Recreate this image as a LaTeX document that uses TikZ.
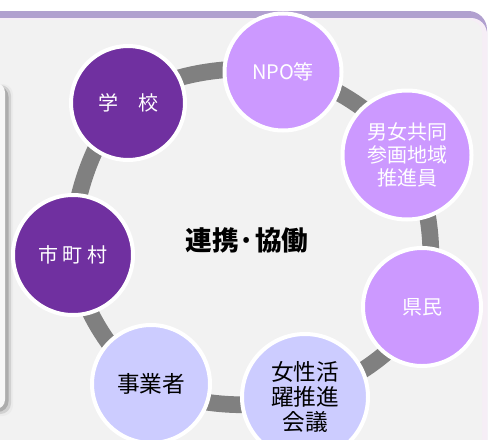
\documentclass[tikz,border=0pt]{standalone}
\usepackage{fontspec}
\setmainfont{Noto Sans CJK JP}
\usetikzlibrary{backgrounds}
\definecolor{bandc}{HTML}{B1A0CF}
\definecolor{edgepale}{HTML}{F6EEF6}
\definecolor{panelc}{HTML}{F2F2F2}
\definecolor{darkp}{HTML}{7030A0}
\definecolor{midp}{HTML}{CC99FF}
\definecolor{lightp}{HTML}{CCCCFF}
\definecolor{ringc}{HTML}{808080}
\pgfdeclarelayer{back}
\pgfdeclarelayer{ringlayer}
\pgfsetlayers{back,ringlayer,main}
\tikzset{
  bub/.style={circle, draw=white, line width=3pt, inner sep=0pt, align=center},
  darkbub/.style={bub, fill=darkp, text=white},
  midbub/.style={bub, fill=midp, text=white},
  lightbub/.style={bub, fill=lightp, text=black},
  ringline/.style={draw=ringc, line width=12.5pt},
  f15/.style={font=\fontsize{15}{17.5}\selectfont},
  f17/.style={font=\fontsize{17}{19}\selectfont},
}
\begin{document}
\begin{tikzpicture}[x=0.75pt,y=-0.75pt]
\useasboundingbox (0,0) rectangle (488,439);
\begin{pgfonlayer}{back}
\clip (0,0) rectangle (488,439);
\fill[white] (0,0) rectangle (488,439);
\fill[bandc, rounded corners=14pt] (-30,11) rectangle (487,480);
\fill[edgepale, rounded corners=12pt] (-30,18) rectangle (487,480);
\fill[panelc, rounded corners=10pt] (-30,20) rectangle (482,480);
\fill[black!8, rounded corners=8pt] (-30,84) rectangle (13,416);
\fill[black!18, rounded corners=8pt] (-30,85) rectangle (11,414);
\fill[black!32, rounded corners=8pt] (-30,86) rectangle (8.5,412);
\fill[black!3, rounded corners=7pt] (-30,83) rectangle (5,409);
\end{pgfonlayer}

\node[darkbub, minimum size=85.5pt, f15] (gakko) at (128,103) {学　校};
\node[midbub, minimum size=87.75pt, f15] (npo) at (283,72) {NPO等};
\node[midbub, minimum size=96.75pt, f15] (danjo) at (407,155) {男女共同\\参画地域\\推進員};
\node[midbub, minimum size=88.5pt, f15] (kenmin) at (422,307) {県民};
\node[lightbub, minimum size=94.5pt, f17] (josei) at (305,397) {女性活\\躍推進\\会議};
\node[lightbub, minimum size=88.5pt, f17] (jigyo) at (151,384) {事業者};
\node[darkbub, minimum size=90pt, f15] (shicho) at (73,255) {市\hspace{3.5pt}町\hspace{3.5pt}村};
\node[font=\bfseries\fontsize{20}{24}\selectfont] (renkei) at (247,240) {連携·協働};

\begin{pgfonlayer}{ringlayer}
\draw[ringline] plot[smooth cycle, tension=0.6] coordinates {(gakko.center) (npo.center) (danjo.center) (kenmin.center) (josei.center) (jigyo.center) (shicho.center)};
\end{pgfonlayer}
\end{tikzpicture}
\end{document}
